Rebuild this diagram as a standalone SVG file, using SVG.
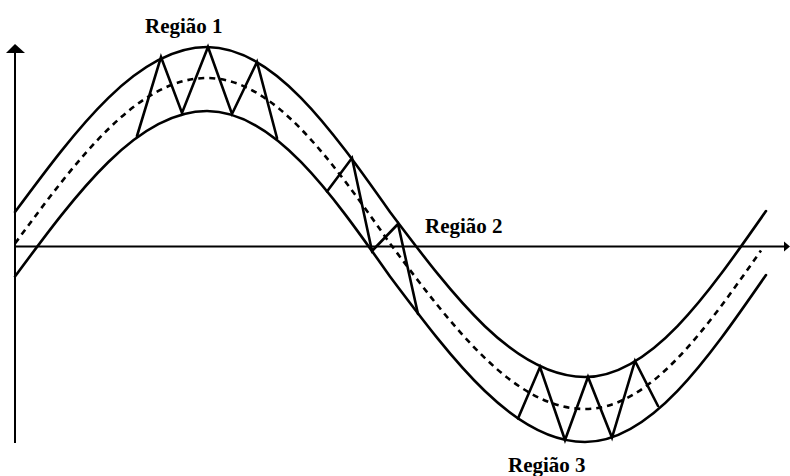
<svg xmlns="http://www.w3.org/2000/svg" width="790" height="476" viewBox="0 0 790 476">
<style>
.ax{stroke:#000;stroke-width:2;fill:none}
.cv{stroke:#000;stroke-width:2.6;fill:none;stroke-linejoin:round;stroke-linecap:round}
.ds{stroke:#000;stroke-width:2.6;fill:none;stroke-dasharray:6 5}
.zz{stroke:#000;stroke-width:2.6;fill:none;stroke-linejoin:miter;stroke-linecap:round}
.lb{font-family:"Liberation Serif","Times New Roman",serif;font-weight:bold;font-size:21px;fill:#000}
</style>
<rect width="790" height="476" fill="#fff"/>
<g id="axes">
<line class="ax" x1="15" y1="50" x2="15" y2="443"/>
<polygon points="15,44 6,53 25,53" fill="#000"/>
<line class="ax" x1="15" y1="246.5" x2="786" y2="246.5"/>
<polygon points="790,246.5 784,241.5 784,251.5" fill="#000"/>
</g>
<g id="curves">
<path id="upper" class="cv" d="M15,212 C77.6,127.5 137.5,47 207,47 C273.2,47 330.3,127.5 390,212 C453.6,296.5 514.4,377 585,377 C650.1,377 706.3,296.5 766,211"/>
<path id="middle" class="ds" d="M15,243.5 C77.6,158.7 137.5,78 207,78 C273.2,78 330.3,158.7 390,243.5 C453.6,328.3 514.4,409 585,409 C650.1,409 706.3,328.3 761,250.5"/>
<path id="lower" class="cv" d="M15,276.5 C77.6,191.7 137.5,111 207,111 C273.2,111 330.3,191.7 390,276.5 C453.6,361.3 514.4,442 585,442 C650.1,442 706.3,361.3 766,275"/>
</g>
<g id="zigzags">
<polyline id="zz1" class="zz" points="137,136 161,57 182,113 208,47 232,114 257,62 277,138"/>
<polyline id="zz2" class="zz" points="327,191.5 352,158 372,251 398,224 418,314"/>
<polyline id="zz3" class="zz" points="518,418.5 540,367 565,440 588,377 612,437.5 635,361 658,406"/>
</g>
<g id="labels">
<text class="lb" x="145" y="33">Região 1</text>
<text class="lb" x="425" y="233">Região 2</text>
<text class="lb" x="508" y="472">Região 3</text>
</g>
</svg>
